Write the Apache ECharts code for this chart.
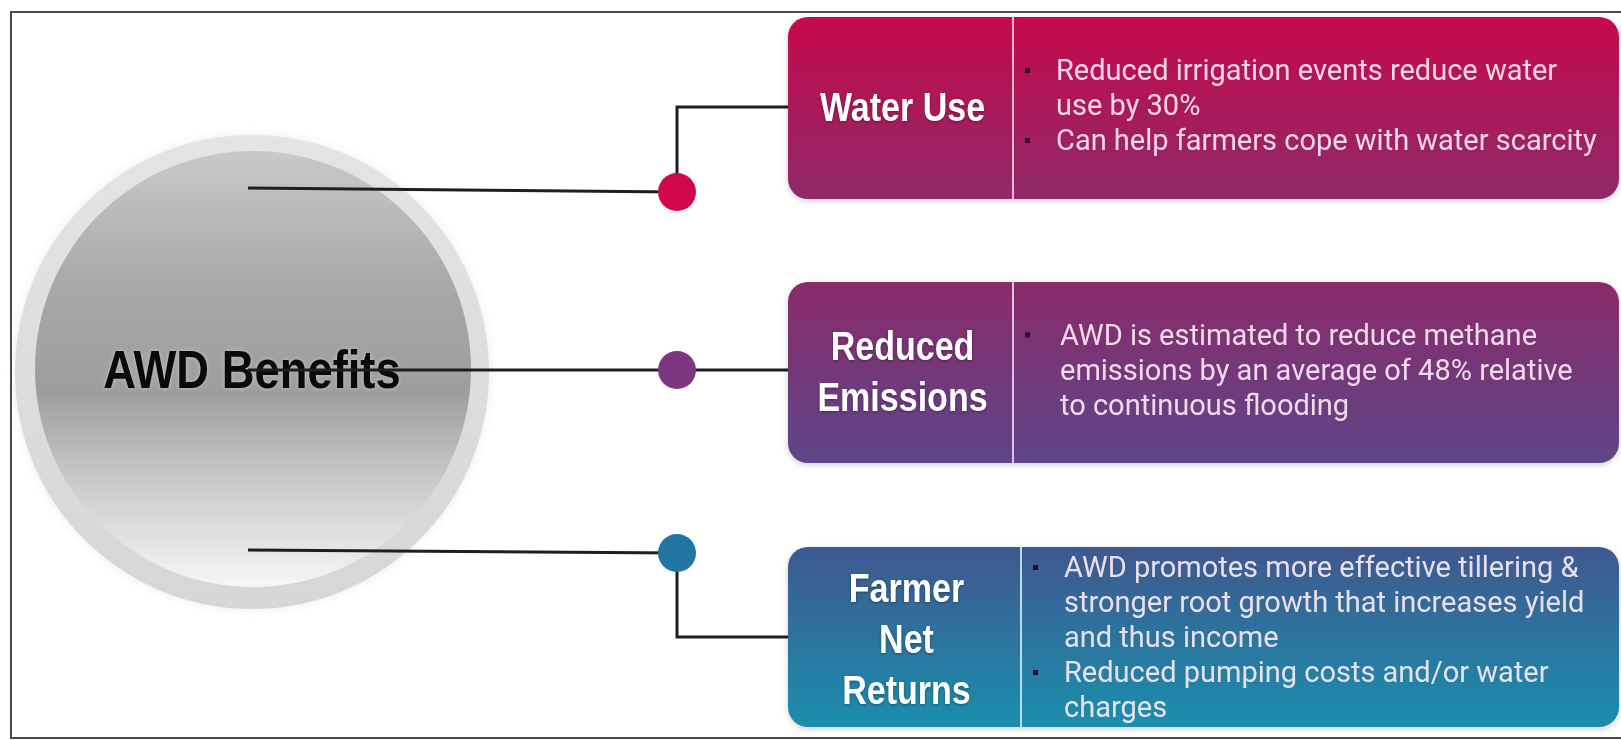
<!DOCTYPE html>
<html>
<head>
<meta charset="utf-8">
<script src="https://cdn.jsdelivr.net/npm/echarts@6/dist/echarts.min.js"></script>
<style>
  html, body { margin: 0; padding: 0; background: #fff; }
  #main { width: 1621px; height: 740px; }
</style>
</head>
<body>
<div id="main"></div>
<script>
// 中心标题
const centerTitle = 'AWD Benefits';
// 三个分类
const topics = ['Water Use', 'Reduced\nEmissions', 'Farmer\nNet\nReturns'];
// 每个分类的说明文字（b = 是否带圆点）
const notes1 = [
  { t: 'Reduced irrigation events reduce water', b: true },
  { t: 'use by 30%', b: false },
  { t: 'Can help farmers cope with water scarcity', b: true }
];
const notes2 = [
  { t: 'AWD is estimated to reduce methane', b: true },
  { t: 'emissions by an average of 48% relative', b: false },
  { t: 'to continuous flooding', b: false }
];
const notes3 = [
  { t: 'AWD promotes more effective tillering &', b: true },
  { t: 'stronger root growth that increases yield', b: false },
  { t: 'and thus income', b: false },
  { t: 'Reduced pumping costs and/or water', b: true },
  { t: 'charges', b: false }
];
const notes = [notes1, notes2, notes3];
const dotColors = ['#d2084c', '#7e3582', '#2274a4'];
const boxTop = ['#c6094b', '#8a2a69', '#3f588f'];
const boxBottom = ['#8e2a69', '#5e4689', '#1a8fad'];
const dividerColors = ['#f4b8d4', '#e0c0e4', '#b8dcea'];

// 布局
const rowTop = [17, 282, 547];
const rowH = [182, 181, 180];
const boxX = 788, boxRight = 1619;
const splitX = [1013, 1013, 1021];
const dotX = 677, dotR = 19;
const dotY = [192, 370, 553];
const lineStartY = [188, 370, 550];
const lineStartX = 248;
const lh = 35;
// 窄体粗字（用 Liberation Sans 横向压缩）
const narrowFont = '"Liberation Sans", Arial, sans-serif';

function grad(c0, c1) {
  return { type: 'linear', x: 0, y: 0, x2: 0, y2: 1, colorStops: [{ offset: 0, color: c0 }, { offset: 1, color: c1 }] };
}

const g = [];
// 外框
g.push({ type: 'rect', z: 1, shape: { x: 11, y: 12, width: 1660, height: 726 }, style: { fill: '#fff', stroke: '#4a4a4a', lineWidth: 2 } });

// 中心圆
g.push({
  type: 'circle', z: 2, shape: { cx: 252, cy: 372, r: 237 },
  style: { fill: grad('#e4e4e4', '#d6d6d6'), shadowBlur: 10, shadowColor: 'rgba(0,0,0,0.08)' }
});
g.push({
  type: 'circle', z: 3, shape: { cx: 253, cy: 369, r: 218 },
  style: {
    fill: {
      type: 'linear', x: 0, y: 0, x2: 0, y2: 1,
      colorStops: [
        { offset: 0, color: '#c9c9c9' },
        { offset: 0.3, color: '#a9a9a9' },
        { offset: 0.55, color: '#9d9d9d' },
        { offset: 0.75, color: '#c8c8c8' },
        { offset: 1, color: '#f6f6f6' }
      ]
    }
  }
});
g.push({
  type: 'text', z: 5, x: 252, y: 373, scaleX: 0.84,
  style: {
    text: centerTitle, fill: '#0a0a0a', align: 'center', verticalAlign: 'middle',
    fontSize: 54, fontWeight: 'bold', fontFamily: narrowFont,
    textShadowColor: 'rgba(255,255,255,0.4)', textShadowBlur: 4
  }
});

// 连线与圆点
for (let i = 0; i < 3; i++) {
  const endX = i === 1 ? boxX + 2 : dotX;
  g.push({ type: 'polyline', z: 6, shape: { points: [[lineStartX, lineStartY[i]], [endX, dotY[i]]] }, style: { stroke: '#1e1e1e', lineWidth: 3, fill: null } });
}
const midY = [rowTop[0] + 90, 0, rowTop[2] + 90];
g.push({ type: 'polyline', z: 6, shape: { points: [[dotX, dotY[0]], [dotX, midY[0]], [boxX + 2, midY[0]]] }, style: { stroke: '#1e1e1e', lineWidth: 3, fill: null } });
g.push({ type: 'polyline', z: 6, shape: { points: [[dotX, dotY[2]], [dotX, midY[2]], [boxX + 2, midY[2]]] }, style: { stroke: '#1e1e1e', lineWidth: 3, fill: null } });
for (let i = 0; i < 3; i++) {
  g.push({ type: 'circle', z: 7, shape: { cx: dotX, cy: dotY[i], r: dotR }, style: { fill: dotColors[i] } });
}

// 右侧方块
for (let i = 0; i < 3; i++) {
  const y0 = rowTop[i], h = rowH[i];
  g.push({
    type: 'rect', z: 8, shape: { x: boxX, y: y0, width: boxRight - boxX, height: h, r: 20 },
    style: { fill: grad(boxTop[i], boxBottom[i]), shadowBlur: 6, shadowOffsetY: 2, shadowColor: 'rgba(0,0,0,0.18)' }
  });
  g.push({ type: 'line', z: 9, shape: { x1: splitX[i], y1: y0, x2: splitX[i], y2: y0 + h }, style: { stroke: dividerColors[i], lineWidth: 2 } });
  const cy = y0 + h / 2 + (i === 2 ? 3 : 0);
  g.push({
    type: 'text', z: 10, x: (boxX + splitX[i]) / 2 + 2, y: cy + 2, scaleX: 0.83,
    style: {
      text: topics[i], fill: '#fff', align: 'center', verticalAlign: 'middle',
      fontSize: 41, fontWeight: 'bold', lineHeight: 51, fontFamily: narrowFont,
      textShadowColor: 'rgba(0,0,0,0.35)', textShadowBlur: 3, textShadowOffsetY: 1
    }
  });
  const list = notes[i];
  const first = cy - (list.length - 1) / 2 * lh;
  const tx = splitX[i] + 43 + (i === 1 ? 4 : 0);
  list.forEach(function (n, k) {
    const yy = first + k * lh;
    if (n.b) {
      g.push({ type: 'rect', z: 10, shape: { x: splitX[i] + 12, y: yy - 5, width: 5, height: 5 }, style: { fill: '#2e0a1e' } });
    }
    g.push({
      type: 'text', z: 10, x: tx, y: yy,
      style: {
        text: n.t, fill: 'rgba(255,236,245,0.9)', align: 'left', verticalAlign: 'middle',
        fontSize: 29, fontFamily: 'Roboto, sans-serif'
      }
    });
  });
}

var myChart = echarts.init(document.getElementById('main'));
myChart.setOption({ animation: false, graphic: { elements: g } });
</script>
</body>
</html>
